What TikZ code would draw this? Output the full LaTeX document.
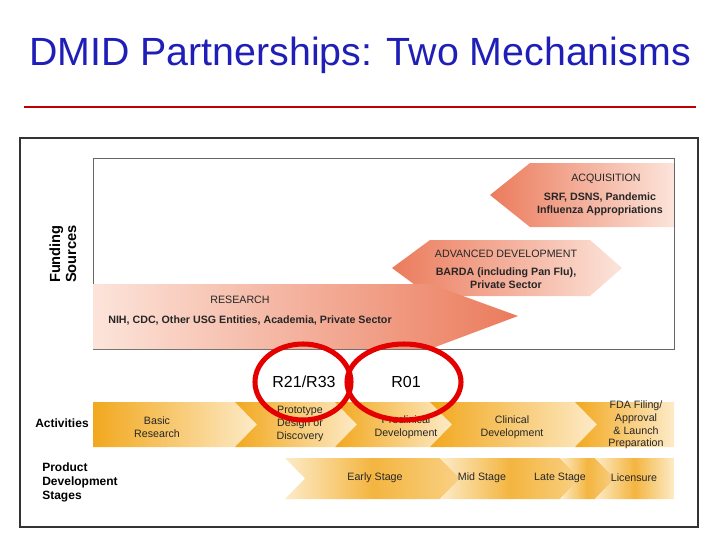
\documentclass[tikz,border=0pt]{standalone}
\usepackage{fontspec}
\setmainfont{Liberation Sans}
\definecolor{dred}{HTML}{C00000}
\definecolor{tblue}{HTML}{1F1FB8}
\definecolor{sdark}{HTML}{EB7B5C}
\definecolor{slight}{HTML}{FCE4DA}
\definecolor{odark}{HTML}{F2A81E}
\definecolor{olight}{HTML}{FDEBC8}
\begin{document}
\begin{tikzpicture}[x=0.75pt,y=-0.75pt,
  small/.style={font=\fontsize{8}{9.5}\selectfont,align=center,text=black!85},
  smallb/.style={font=\fontsize{8}{10}\selectfont\bfseries,align=center,text=black!85},
  lab/.style={font=\fontsize{9}{10.5}\selectfont\bfseries,align=left},
  ring/.style={draw=red!90!black,line width=3.8pt}]
\useasboundingbox (0,0) rectangle (720,540);
\node (title) at (360,55) {\fontsize{29.5}{32}\selectfont\color{tblue}DMID Partnerships: Two Mechanisms};
\draw[dred,line width=1.6pt] (24,107) -- (696,107);
\draw[black!80,line width=1.5pt] (20,138) rectangle (698,527);
\draw[black!60,line width=0.6pt] (93,158) rectangle (674,349);
\node[rotate=90,font=\fontsize{11}{12}\selectfont\bfseries,align=center] (fund) at (63,254) {Funding\\Sources};
% acquisition
\shade[left color=sdark,right color=slight] (490,195) -- (530,163) -- (674,163) -- (674,227) -- (530,227) -- cycle;
\node[small] (acq) at (606,179) {ACQUISITION};
\node[smallb] (acq2) at (600,204) {SRF, DSNS, Pandemic\\Influenza Appropriations};
% advanced
\shade[left color=sdark,right color=slight] (392,268) -- (430,240) -- (590,240) -- (622,268) -- (590,296) -- (430,296) -- cycle;
\node[small] (adv) at (506,254) {ADVANCED DEVELOPMENT};
\node[smallb] (adv2) at (506,278) {BARDA (including Pan Flu),\\Private Sector};
% research
\shade[left color=slight,right color=sdark] (93,284) -- (430,284) -- (518,316) -- (430,349) -- (93,349) -- cycle;
\node[small] (res) at (240,300) {RESEARCH};
\node[smallb] (res2) at (250,320) {NIH, CDC, Other USG Entities, Academia, Private Sector};
% activities
\node[lab] (act) at (62,423) {Activities};
\foreach \l/\r/\fl in {93/235/0,235/335/1,335/430/1,430/575/1,575/674/1}{
  \ifnum\r=674
    \shade[left color=odark,right color=olight] (\l,402) -- (\r,402) -- (\r,447) -- (\l,447) -- ({\l+22},424.5) -- cycle;
  \else\ifnum\fl=0
    \shade[left color=odark,right color=olight] (\l,402) -- (\r,402) -- ({\r+22},424.5) -- (\r,447) -- (\l,447) -- cycle;
  \else
    \shade[left color=odark,right color=olight] (\l,402) -- (\r,402) -- ({\r+22},424.5) -- (\r,447) -- (\l,447) -- ({\l+22},424.5) -- cycle;
  \fi\fi
}
\node[small] (a1) at (157,427) {Basic\\Research};
\node[small] (a2) at (300,424) {Prototype\\Design or\\Discovery};
\node[small] (a3) at (406,427) {Preclinical\\Development};
\node[small] (a4) at (512,427) {Clinical\\Development};
\node[small] (a5) at (636,425) {FDA Filing/\\Approval\\\& Launch\\Preparation};
% stages
\node[lab] (pds) at (80,482) {Product\\Development\\Stages};
\foreach \l/\r in {285/440,440/560,560/595}{
  \shade[left color=olight,right color=olight!60!odark,middle color=odark!85] (\l,458) -- (\r,458) -- ({\r+20},478.5) -- (\r,499) -- (\l,499) -- ({\l+20},478.5) -- cycle;
}
\shade[left color=olight,right color=olight,middle color=odark!85] (595,458) -- (674,458) -- (674,499) -- (595,499) -- (615,478.5) -- cycle;
\node[small] (s1) at (375,478) {Early Stage};
\node[small] (s2) at (482,478) {Mid Stage};
\node[small] (s3) at (560,478) {Late Stage};
\node[small] (s4) at (634,478) {Licensure};
% rings
\draw[ring] (303,382) ellipse (48 and 38);
\draw[ring] (404,382) ellipse (57 and 38);
\node[font=\fontsize{12}{13}\selectfont] (r1) at (304,382) {R21/R33};
\node[font=\fontsize{12}{13}\selectfont] (r2) at (406,382) {R01};
\end{tikzpicture}
\end{document}
